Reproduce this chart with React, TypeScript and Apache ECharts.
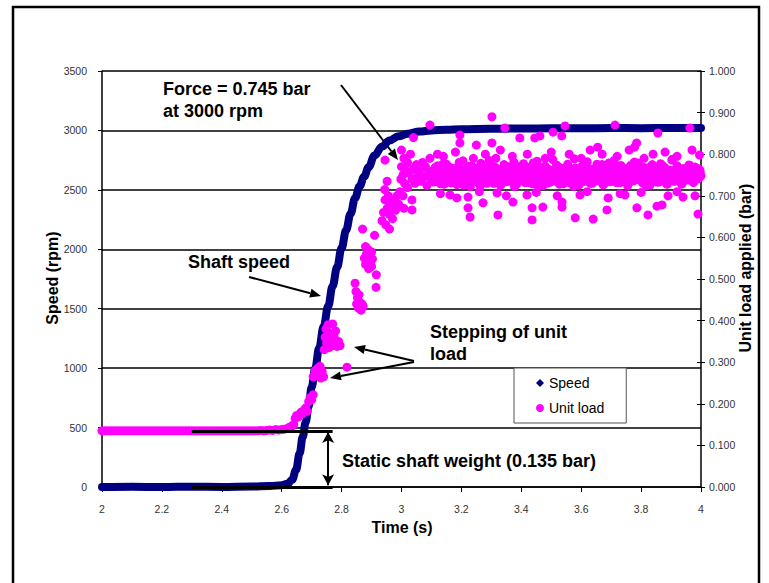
import React, { useEffect, useRef } from "react";
import * as echarts from "echarts";

// Shaft speed (rpm) against time (s)
const speedData: [number, number][] = [
  [2.0, 0], [2.1, 2], [2.2, 0], [2.3, 3], [2.4, 1], [2.5, 4], [2.56, 8], [2.6, 15],
  [2.62, 28], [2.635, 62], [2.648, 145], [2.66, 285], [2.67, 420], [2.68, 545],
  [2.69, 680], [2.7, 840], [2.712, 1000], [2.725, 1170], [2.74, 1350], [2.755, 1520],
  [2.77, 1690], [2.785, 1850], [2.8, 2010], [2.815, 2160], [2.83, 2300], [2.845, 2430],
  [2.86, 2530], [2.875, 2610], [2.89, 2690], [2.91, 2790], [2.935, 2865], [2.96, 2915],
  [2.99, 2950], [3.02, 2972], [3.06, 2990], [3.1, 3000], [3.15, 3006], [3.2, 3010],
  [3.3, 3014], [3.4, 3016], [3.5, 3018], [3.6, 3018], [3.7, 3020], [3.8, 3019],
  [3.9, 3020], [4.0, 3020],
];

// Unit load (bar) before the run-up: static shaft weight, sampled every 0.01 s from 2.00 s
const staticStart = 2.0;
const staticStep = 0.01;
const staticLoad = [
  0.135, 0.135, 0.135, 0.135, 0.135, 0.135, 0.135, 0.135, 0.135, 0.135,
  0.135, 0.135, 0.135, 0.135, 0.135, 0.135, 0.135, 0.135, 0.135, 0.135,
  0.135, 0.135, 0.135, 0.135, 0.135, 0.135, 0.135, 0.135, 0.135, 0.135,
  0.135, 0.135, 0.135, 0.135, 0.135, 0.135, 0.135, 0.135, 0.135, 0.135,
  0.135, 0.135, 0.135, 0.135, 0.135, 0.135, 0.135, 0.135, 0.135, 0.135,
  0.135, 0.135, 0.135, 0.136, 0.135, 0.136, 0.137, 0.136, 0.138, 0.137,
  0.138,
];

// Unit load while the shaft accelerates (stepped loading)
const loadRise: [number, number][] = [
  [2.61, 0.139], [2.62, 0.141], [2.625, 0.143], [2.63, 0.145], [2.635, 0.147], [2.64, 0.15],
  [2.645, 0.165], [2.65, 0.172], [2.655, 0.168], [2.66, 0.175], [2.665, 0.18], [2.67, 0.176],
  [2.675, 0.185], [2.68, 0.19], [2.685, 0.182], [2.69, 0.205], [2.695, 0.215], [2.7, 0.21],
  [2.705, 0.222], [2.705, 0.265], [2.71, 0.27], [2.712, 0.28], [2.715, 0.275], [2.72, 0.285],
  [2.725, 0.27], [2.728, 0.29], [2.73, 0.262], [2.735, 0.278], [2.74, 0.265], [2.742, 0.33],
  [2.745, 0.36], [2.748, 0.38], [2.75, 0.345], [2.755, 0.39], [2.758, 0.335], [2.76, 0.37],
  [2.765, 0.35], [2.77, 0.34], [2.775, 0.36], [2.78, 0.345], [2.785, 0.338], [2.79, 0.35],
  [2.795, 0.34], [2.78, 0.375], [2.77, 0.392], [2.818, 0.288], [2.845, 0.49], [2.848, 0.47],
  [2.85, 0.44], [2.853, 0.455], [2.856, 0.43], [2.86, 0.445], [2.865, 0.425], [2.868, 0.44],
  [2.872, 0.435], [2.858, 0.462], [2.876, 0.55], [2.88, 0.535], [2.883, 0.56], [2.886, 0.545],
  [2.89, 0.525], [2.893, 0.555], [2.896, 0.54], [2.9, 0.53], [2.903, 0.548], [2.89, 0.57],
  [2.9, 0.565], [2.915, 0.48], [2.916, 0.51], [2.91, 0.605], [2.87, 0.62], [2.88, 0.578],
  [2.935, 0.64], [2.94, 0.66], [2.945, 0.69], [2.948, 0.63], [2.952, 0.67], [2.956, 0.7],
  [2.96, 0.655], [2.965, 0.68], [2.97, 0.645], [2.975, 0.69], [2.98, 0.665], [2.985, 0.7],
  [2.99, 0.68], [2.995, 0.71], [2.96, 0.62], [2.944, 0.715], [2.952, 0.735], [2.945, 0.786],
  [2.998, 0.74], [3.0, 0.77], [3.005, 0.75], [3.008, 0.79], [3.01, 0.73], [3.015, 0.76],
  [3.02, 0.78], [3.02, 0.72], [3.025, 0.755], [3.03, 0.8], [3.035, 0.74], [3.04, 0.765],
  [3.045, 0.73], [3.05, 0.775], [3.055, 0.75], [3.06, 0.76], [3.065, 0.735], [3.07, 0.78],
  [3.075, 0.745], [3.08, 0.77], [3.085, 0.725], [3.09, 0.755], [3.095, 0.79], [3.1, 0.74],
];

// Unit load at full speed, two interleaved sample passes every 0.005 s from 3.10 s
const plateauStart = 3.1;
const plateauStep = 0.005;
const plateauPassA = [
  0.742, 0.761, 0.735, 0.755, 0.772, 0.748, 0.729, 0.763, 0.751, 0.738,
  0.776, 0.744, 0.757, 0.731, 0.766, 0.749, 0.753, 0.727, 0.769, 0.740,
  0.758, 0.784, 0.736, 0.750, 0.764, 0.745, 0.722, 0.771, 0.754, 0.739,
  0.762, 0.747, 0.733, 0.778, 0.752, 0.741, 0.767, 0.730, 0.756, 0.746,
  0.773, 0.737, 0.759, 0.790, 0.743, 0.751, 0.726, 0.765, 0.748, 0.760,
  0.734, 0.770, 0.745, 0.755, 0.739, 0.781, 0.750, 0.728, 0.763, 0.742,
  0.757, 0.774, 0.736, 0.749, 0.768, 0.732, 0.753, 0.744, 0.779, 0.740,
  0.761, 0.725, 0.752, 0.766, 0.738, 0.747, 0.771, 0.756, 0.731, 0.762,
  0.743, 0.787, 0.750, 0.735, 0.758, 0.769, 0.741, 0.754, 0.729, 0.764,
  0.748, 0.776, 0.737, 0.757, 0.745, 0.723, 0.767, 0.752, 0.739, 0.760,
  0.733, 0.772, 0.749, 0.755, 0.782, 0.742, 0.730, 0.763, 0.746, 0.758,
  0.736, 0.769, 0.751, 0.740, 0.775, 0.727, 0.756, 0.744, 0.765, 0.734,
  0.761, 0.748, 0.785, 0.738, 0.753, 0.770, 0.732, 0.759, 0.745, 0.766,
  0.741, 0.724, 0.757, 0.773, 0.747, 0.736, 0.762, 0.750, 0.779, 0.739,
  0.754, 0.731, 0.768, 0.743, 0.760, 0.749, 0.726, 0.771, 0.755, 0.737,
  0.764, 0.746, 0.733, 0.777, 0.752, 0.740, 0.767, 0.729, 0.758, 0.744,
  0.761, 0.788, 0.735, 0.750, 0.772, 0.742, 0.756, 0.728, 0.765, 0.747,
  0.753, 0.738, 0.774, 0.745, 0.760, 0.732, 0.769, 0.751, 0.741, 0.763,
  0.748,
];
const plateauPassB = [
  0.756, 0.733, 0.768, 0.745, 0.739, 0.762, 0.751, 0.776, 0.728, 0.759,
  0.747, 0.770, 0.737, 0.754, 0.743, 0.765, 0.731, 0.758, 0.780, 0.741,
  0.750, 0.726, 0.763, 0.746, 0.771, 0.738, 0.755, 0.744, 0.767, 0.734,
  0.760, 0.749, 0.724, 0.773, 0.752, 0.739, 0.764, 0.747, 0.785, 0.736,
  0.757, 0.730, 0.769, 0.743, 0.753, 0.762, 0.727, 0.748, 0.775, 0.740,
  0.766, 0.735, 0.751, 0.744, 0.759, 0.722, 0.772, 0.746, 0.738, 0.761,
  0.749, 0.777, 0.732, 0.756, 0.741, 0.768, 0.753, 0.729, 0.764, 0.745,
  0.783, 0.737, 0.758, 0.750, 0.725, 0.770, 0.742, 0.755, 0.763, 0.733,
  0.747, 0.760, 0.739, 0.774, 0.751, 0.728, 0.766, 0.744, 0.757, 0.736,
  0.769, 0.748, 0.731, 0.762, 0.754, 0.789, 0.740, 0.752, 0.726, 0.767,
  0.745, 0.758, 0.735, 0.771, 0.749, 0.741, 0.764, 0.730, 0.756, 0.743,
  0.776, 0.738, 0.753, 0.765, 0.727, 0.750, 0.761, 0.744, 0.779, 0.734,
  0.757, 0.746, 0.768, 0.732, 0.755, 0.742, 0.773, 0.748, 0.737, 0.763,
  0.751, 0.729, 0.766, 0.745, 0.758, 0.781, 0.739, 0.754, 0.743, 0.770,
  0.735, 0.760, 0.747, 0.724, 0.767, 0.752, 0.740, 0.775, 0.746, 0.757,
  0.733, 0.764, 0.749, 0.738, 0.772, 0.755, 0.744, 0.728, 0.762, 0.750,
  0.786, 0.741, 0.759, 0.736, 0.769, 0.747, 0.753, 0.731, 0.765, 0.745,
  0.756, 0.740, 0.773, 0.748, 0.734, 0.761, 0.752, 0.766, 0.742, 0.758,
];

// Scattered readings above and below the full-speed band
const loadOutliers: [number, number][] = [
  [3.0, 0.81], [3.005, 0.70], [3.008, 0.67], [3.035, 0.666], [3.035, 0.69], [3.04, 0.84],
  [3.095, 0.87], [3.195, 0.846], [3.302, 0.89], [3.345, 0.863], [3.506, 0.853], [3.546, 0.868],
  [3.713, 0.87], [3.856, 0.851], [3.963, 0.863], [3.195, 0.827], [3.25, 0.822], [3.302, 0.827],
  [3.395, 0.839], [3.445, 0.839], [3.462, 0.844], [3.535, 0.844], [3.785, 0.827], [3.778, 0.817],
  [3.995, 0.798], [3.655, 0.817], [3.229, 0.649], [3.322, 0.654], [3.436, 0.642], [3.58, 0.647],
  [3.64, 0.644], [3.823, 0.654], [3.99, 0.656], [3.222, 0.671], [3.272, 0.683], [3.372, 0.685],
  [3.436, 0.671], [3.472, 0.673], [3.536, 0.673], [3.536, 0.685], [3.686, 0.666], [3.786, 0.671],
  [3.853, 0.675], [3.87, 0.678], [3.89, 0.70], [3.185, 0.695], [3.162, 0.702], [3.222, 0.697],
  [3.319, 0.707], [3.419, 0.702], [3.596, 0.702], [3.69, 0.695], [3.746, 0.702], [3.94, 0.697],
  [3.12, 0.80], [3.14, 0.795], [3.18, 0.805], [3.24, 0.79], [3.28, 0.80], [3.33, 0.81],
  [3.37, 0.795], [3.42, 0.80], [3.48, 0.79], [3.5, 0.805], [3.56, 0.80], [3.6, 0.79],
  [3.63, 0.81], [3.67, 0.80], [3.72, 0.795], [3.76, 0.81], [3.81, 0.79], [3.84, 0.80],
  [3.88, 0.805], [3.92, 0.795], [3.97, 0.81], [3.13, 0.705], [3.26, 0.71], [3.35, 0.70],
  [3.45, 0.708], [3.52, 0.70], [3.62, 0.71], [3.73, 0.705], [3.8, 0.708], [3.92, 0.71],
  [3.98, 0.70],
];

// Static shaft weight marker (bar) and the time span it is drawn over (s)
const shaftWeight = 0.135;
const weightSpan = [2.3, 2.77];
const weightArrowTime = 2.755;

const timeTicks = { min: 2, max: 4, interval: 0.2 };
const speedTicks = { min: 0, max: 3500, interval: 500 };
const loadTicks = { min: 0, max: 1, interval: 0.1 };

const FONT = "'Liberation Sans', Arial, Helvetica, sans-serif";

function sampled(start: number, step: number, values: number[], offset = 0): [number, number][] {
  return values.map((v, i) => [+(start + offset + i * step).toFixed(5), v]);
}

function arrow(x1: number, y1: number, x2: number, y2: number) {
  const head = 11;
  const half = 4.5;
  const dx = x2 - x1;
  const dy = y2 - y1;
  const len = Math.hypot(dx, dy);
  const ux = dx / len;
  const uy = dy / len;
  const bx = x2 - ux * head;
  const by = y2 - uy * head;
  return [
    { type: "line", shape: { x1, y1, x2: bx, y2: by }, style: { stroke: "#000", lineWidth: 2 } },
    {
      type: "polygon",
      shape: { points: [[x2, y2], [bx - uy * half, by + ux * half], [bx + uy * half, by - ux * half]] },
      style: { fill: "#000" },
    },
  ];
}

function label(text: string, x: number, y: number, size: number, extra: any = {}) {
  return {
    type: "text",
    x,
    y,
    ...extra,
    style: {
      text,
      fill: "#000",
      font: `bold ${size}px ${FONT}`,
      textVerticalAlign: "middle",
      textAlign: extra.textAlign || "left",
    },
  };
}

export default function App() {
  const ref = useRef<HTMLDivElement>(null);

  useEffect(() => {
    if (!ref.current) return;
    const chart = echarts.init(ref.current, undefined, { renderer: "svg" });

    const loadData: [number, number][] = [
      ...sampled(staticStart, staticStep, staticLoad),
      ...loadRise,
      ...sampled(plateauStart, plateauStep, plateauPassA),
      ...sampled(plateauStart, plateauStep, plateauPassB, plateauStep / 2),
      ...loadOutliers,
    ];

    const axisLabel = { color: "#333", fontFamily: FONT, fontSize: 10.5 };

    chart.setOption({
      animation: false,
      backgroundColor: "#fff",
      grid: { left: 102, right: 68, top: 71, bottom: 96 },
      legend: {
        orient: "vertical",
        left: 514,
        top: 368,
        data: [
          { name: "Speed", icon: "diamond" },
          { name: "Unit load", icon: "circle" },
        ],
        itemWidth: 8,
        itemHeight: 8,
        itemGap: 11,
        padding: [8, 22, 8, 22],
        borderColor: "#555",
        borderWidth: 1,
        backgroundColor: "#fff",
        textStyle: { fontFamily: FONT, fontSize: 14, color: "#000", lineHeight: 14 },
      },
      xAxis: {
        type: "value",
        ...timeTicks,
        axisLine: { show: true, lineStyle: { color: "#000", width: 1.5 } },
        axisTick: { show: true, length: 5, lineStyle: { color: "#000" } },
        axisLabel: {
          ...axisLabel,
          margin: 16,
          formatter: (v: number) => String(Math.round(v * 10) / 10),
        },
        splitLine: { show: false },
      },
      yAxis: [
        {
          type: "value",
          ...speedTicks,
          position: "left",
          axisLine: { show: true, lineStyle: { color: "#000", width: 1.5 } },
          axisTick: { show: true, length: 4, lineStyle: { color: "#000" } },
          axisLabel: { ...axisLabel, margin: 15, formatter: (v: number) => String(v) },
          splitLine: { show: true, lineStyle: { color: "#000", width: 1.5 } },
        },
        {
          type: "value",
          ...loadTicks,
          position: "right",
          axisLine: { show: true, lineStyle: { color: "#000", width: 1.5 } },
          axisTick: { show: true, length: 4, lineStyle: { color: "#000" } },
          axisLabel: { ...axisLabel, margin: 8, formatter: (v: number) => v.toFixed(3) },
          splitLine: { show: false },
        },
        {
          type: "value",
          ...loadTicks,
          position: "right",
          axisLine: { show: false },
          axisTick: { show: true, inside: true, length: 4, lineStyle: { color: "#000" } },
          axisLabel: { show: false },
          splitLine: { show: false },
        },
      ],
      series: [
        {
          name: "Speed",
          type: "line",
          yAxisIndex: 0,
          data: speedData,
          symbol: "diamond",
          showSymbol: false,
          smooth: 0.4,
          smoothMonotone: "x",
          clip: false,
          lineStyle: { color: "#000080", width: 8, cap: "round", join: "round" },
          itemStyle: { color: "#000080" },
          z: 2,
        },
        {
          name: "Unit load",
          type: "scatter",
          yAxisIndex: 1,
          data: loadData,
          symbol: "circle",
          symbolSize: 9,
          itemStyle: { color: "#ff00ff", opacity: 1 },
          z: 3,
        },
        {
          name: "shaftWeight",
          type: "scatter",
          yAxisIndex: 1,
          data: [],
          z: 4,
          silent: true,
          markLine: {
            silent: true,
            animation: false,
            label: { show: false },
            data: [
              [
                { coord: [weightSpan[0], shaftWeight], symbol: "none" },
                { coord: [weightSpan[1], shaftWeight], symbol: "none" },
              ],
              [
                { coord: [weightSpan[0], 0], symbol: "none" },
                { coord: [weightSpan[1], 0], symbol: "none" },
              ],
            ],
            lineStyle: { color: "#000", width: 3, type: "solid" },
          },
        },
        {
          name: "shaftWeightArrow",
          type: "scatter",
          yAxisIndex: 1,
          data: [],
          z: 4,
          silent: true,
          markLine: {
            silent: true,
            animation: false,
            label: { show: false },
            symbol: ["arrow", "arrow"],
            symbolSize: [9, 11],
            data: [
              [
                { coord: [weightArrowTime, 0.004] },
                { coord: [weightArrowTime, shaftWeight - 0.003] },
              ],
            ],
            lineStyle: { color: "#000", width: 2, type: "solid" },
          },
        },
      ],
      graphic: [
        {
          type: "rect",
          shape: { x: 13, y: 7, width: 746, height: 600 },
          style: { fill: "none", stroke: "#000", lineWidth: 2.5 },
          silent: true,
        },
        label("Speed (rpm)", 52, 278, 16, { rotation: Math.PI / 2, textAlign: "center" }),
        label("Unit load applied (bar)", 745, 268, 16, { rotation: Math.PI / 2, textAlign: "center" }),
        label("Time (s)", 402, 527, 16, { textAlign: "center" }),
        label("Force = 0.745 bar", 163, 89, 18),
        label("at 3000 rpm", 163, 111, 18),
        label("Shaft speed", 188, 262, 18),
        label("Stepping of unit", 430, 332, 18),
        label("load", 430, 354, 18),
        label("Static shaft weight (0.135 bar)", 342, 461, 18),
        ...arrow(341, 85, 398, 160),
        ...arrow(249, 277, 321, 296),
        ...arrow(414, 361, 354, 347),
        ...arrow(414, 362, 330, 378),
      ],
    });

    return () => chart.dispose();
  }, []);

  return (
    <div
      ref={ref}
      style={{ position: "fixed", left: 0, top: 0, width: 769, height: 583, background: "#fff" }}
    />
  );
}
